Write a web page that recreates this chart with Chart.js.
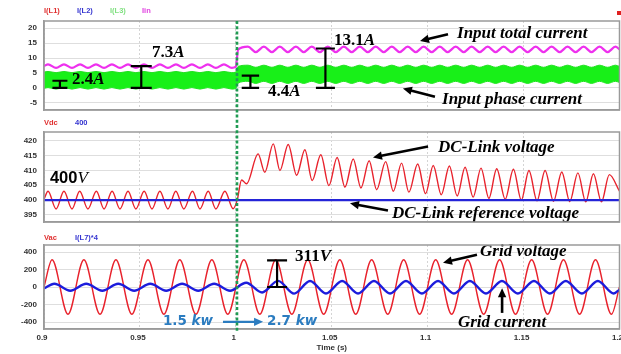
<!DOCTYPE html>
<html><head><meta charset="utf-8">
<script src="https://cdn.jsdelivr.net/npm/chart.js@4"></script>
<style>
html,body{margin:0;padding:0;background:#fff;}
#wrap{position:relative;width:621px;height:354px;overflow:hidden;background:#fff;}
canvas{position:absolute;left:0;top:0;}
</style></head><body>
<div id="wrap">
<canvas id="c1" width="621" height="354"></canvas>
<canvas id="c2" width="621" height="354"></canvas>
<canvas id="c3" width="621" height="354"></canvas>
</div>
<script>
// ---------- axis ticks ----------
const xTickVals = [0.9, 0.95, 1.0, 1.05, 1.1, 1.15, 1.2];
const xTickLabels = ['0.9', '0.95', '1', '1.05', '1.1', '1.15', '1.2'];
const y1TickVals = [-5, 0, 5, 10, 15, 20];
const y1TickLabels = ['-5', '0', '5', '10', '15', '20'];
const y2TickVals = [395, 400, 405, 410, 415, 420];
const y2TickLabels = ['395', '400', '405', '410', '415', '420'];
const y3TickVals = [-400, -200, 0, 200, 400];
const y3TickLabels = ['-400', '-200', '0', '200', '400'];

// ---------- legends ----------
const legend1 = ['I(L1)', 'I(L2)', 'I(L3)', 'Iin'];
const legend2 = ['Vdc', '400'];
const legend3 = ['Vac', 'I(L7)*4'];

// ---------- panel 1: input currents (120 Hz ripple extrema) ----------
const t120 = [
 0.9000, 0.9021, 0.9063, 0.9104, 0.9146, 0.9188, 0.9229, 0.9271, 0.9313, 0.9354, 0.9396, 0.9438, 0.9479,
 0.9521, 0.9563, 0.9604, 0.9646, 0.9688, 0.9729, 0.9771, 0.9813, 0.9854, 0.9896, 0.9938, 0.9979,
 1.0000, 1.0012,
 1.0063, 1.0104, 1.0146, 1.0188, 1.0229, 1.0271, 1.0313, 1.0354, 1.0396, 1.0438,
 1.0479, 1.0521, 1.0563, 1.0604, 1.0646, 1.0688, 1.0729, 1.0771, 1.0813, 1.0854,
 1.0896, 1.0938, 1.0979, 1.1021, 1.1063, 1.1104, 1.1146, 1.1188, 1.1229, 1.1271,
 1.1313, 1.1354, 1.1396, 1.1438, 1.1479, 1.1521, 1.1563, 1.1604, 1.1646, 1.1688,
 1.1729, 1.1771, 1.1813, 1.1854, 1.1896, 1.1938, 1.1979,
 1.2000
];
const iinVals = [
 7.3, 7.9, 6.7, 7.9, 6.7, 7.9, 6.7, 7.9, 6.7, 7.9, 6.7, 7.9, 6.7,
 7.9, 6.7, 7.9, 6.7, 7.9, 6.7, 7.9, 6.7, 7.9, 6.7, 7.9, 6.7,
 7.1, 12.8,
 13.8, 12.0, 13.8, 12.0, 13.8, 12.0, 13.8, 12.0, 13.8, 12.0,
 13.8, 12.0, 13.8, 12.0, 13.8, 12.0, 13.8, 12.0, 13.8, 12.0,
 13.8, 12.0, 13.8, 12.0, 13.8, 12.0, 13.8, 12.0, 13.8, 12.0,
 13.8, 12.0, 13.8, 12.0, 13.8, 12.0, 13.8, 12.0, 13.8, 12.0,
 13.8, 12.0, 13.8, 12.0, 13.8, 12.0, 13.8,
 12.9
];
const phaseTopVals = [
 5.3, 5.5, 5.1, 5.5, 5.1, 5.5, 5.1, 5.5, 5.1, 5.5, 5.1, 5.5, 5.1,
 5.5, 5.1, 5.5, 5.1, 5.5, 5.1, 5.5, 5.1, 5.5, 5.1, 5.5, 5.1,
 5.3, 7.2,
 7.6, 6.9, 7.6, 6.9, 7.6, 6.9, 7.6, 6.9, 7.6, 6.9,
 7.6, 6.9, 7.6, 6.9, 7.6, 6.9, 7.6, 6.9, 7.6, 6.9,
 7.6, 6.9, 7.6, 6.9, 7.6, 6.9, 7.6, 6.9, 7.6, 6.9,
 7.6, 6.9, 7.6, 6.9, 7.6, 6.9, 7.6, 6.9, 7.6, 6.9,
 7.6, 6.9, 7.6, 6.9, 7.6, 6.9, 7.6,
 7.2
];
const phaseBotVals = [
 -0.2, 0.1, -0.4, 0.1, -0.4, 0.1, -0.4, 0.1, -0.4, 0.1, -0.4, 0.1, -0.4,
 0.1, -0.4, 0.1, -0.4, 0.1, -0.4, 0.1, -0.4, 0.1, -0.4, 0.1, -0.4,
 -0.2, 1.6,
 2.2, 1.5, 2.2, 1.5, 2.2, 1.5, 2.2, 1.5, 2.2, 1.5,
 2.2, 1.5, 2.2, 1.5, 2.2, 1.5, 2.2, 1.5, 2.2, 1.5,
 2.2, 1.5, 2.2, 1.5, 2.2, 1.5, 2.2, 1.5, 2.2, 1.5,
 2.2, 1.5, 2.2, 1.5, 2.2, 1.5, 2.2, 1.5, 2.2, 1.5,
 2.2, 1.5, 2.2, 1.5, 2.2, 1.5, 2.2,
 1.8
];

// ---------- panel 2: DC-link voltage extrema ----------
const vdcT = [
 0.9000, 0.9021, 0.9063, 0.9104, 0.9146, 0.9186, 0.9229, 0.9273, 0.9313, 0.9355, 0.9396, 0.9438, 0.9479,
 0.9522, 0.9563, 0.9604, 0.9646, 0.9687, 0.9729, 0.9774, 0.9813, 0.9856, 0.9896, 0.9943, 0.9986,
 1.0007, 1.0030, 1.0056, 1.0116, 1.0151, 1.0195, 1.0230, 1.0273, 1.0317, 1.0360, 1.0398,
 1.0443, 1.0485, 1.0528, 1.0569, 1.0612, 1.0652, 1.0695, 1.0734, 1.0781, 1.0821, 1.0864, 1.0902,
 1.0948, 1.0989, 1.1029, 1.1071, 1.1113, 1.1154, 1.1195, 1.1237, 1.1278, 1.1319, 1.1360, 1.1404,
 1.1447, 1.1488, 1.1528, 1.1570, 1.1612, 1.1656, 1.1699, 1.1741, 1.1783, 1.1824, 1.1864, 1.1906,
 1.1947, 1.2000
];
const vdcVals = [
 400.3, 403, 397, 403, 397, 403, 397, 403, 397, 403, 397, 403, 397,
 403, 397, 403, 397, 403, 397, 403, 397, 403, 397, 403, 397.1,
 400, 406.8, 405.5, 415.6, 409.4, 419, 410, 418.8, 408.4, 417, 406.6,
 415.3, 404.9, 414.4, 404.4, 413.9, 404.1, 413.3, 403.5, 413, 403, 412.5, 402.7,
 412.2, 402.2, 411.7, 401.8, 411.5, 401.4, 411.1, 401, 410.8, 400.6, 410.6, 400.3,
 410.4, 400, 410, 399.8, 410, 399.6, 409.5, 399.5, 409.2, 399.4, 408.9, 399.4,
 408.6, 403
];
const vrefT = [0.9, 1.2];
const vrefVals = [400, 400];

// ---------- panel 3: grid voltage / current extrema ----------
const vacT = [
 0.9000, 0.9042, 0.9125, 0.9208, 0.9292, 0.9375, 0.9458, 0.9542, 0.9625, 0.9708, 0.9792, 0.9875, 0.9958,
 1.0042, 1.0125, 1.0208, 1.0292, 1.0375, 1.0458, 1.0542, 1.0625, 1.0708, 1.0792, 1.0875, 1.0958,
 1.1042, 1.1125, 1.1208, 1.1292, 1.1375, 1.1458, 1.1542, 1.1625, 1.1708, 1.1792, 1.1875, 1.1958,
 1.2000
];
const vacVals = [
 0, 311, -311, 311, -311, 311, -311, 311, -311, 311, -311, 311, -311,
 311, -311, 311, -311, 311, -311, 311, -311, 311, -311, 311, -311,
 311, -311, 311, -311, 311, -311, 311, -311, 311, -311, 311, -311,
 0
];
const iacT = [
 0.9000, 0.9054, 0.9137, 0.9220, 0.9304, 0.9387, 0.9470, 0.9554, 0.9637, 0.9720, 0.9804, 0.9887, 0.9970,
 1.0054, 1.0137, 1.0220, 1.0304, 1.0387, 1.0470, 1.0554, 1.0637, 1.0720, 1.0804, 1.0887, 1.0970,
 1.1054, 1.1137, 1.1220, 1.1304, 1.1387, 1.1470, 1.1554, 1.1637, 1.1720, 1.1804, 1.1887, 1.1970,
 1.2000
];
const iacVals = [
 -15, 38, -42, 38, -42, 38, -42, 38, -42, 38, -42, 38, -42,
 48, -62, 70, -76, 68, -74, 68, -74, 68, -74, 68, -74,
 68, -74, 68, -74, 68, -74, 68, -74, 68, -74, 68, -74,
 -30
];

// ---------- helpers ----------
const pts = (ts, vs) => ts.map((t, i) => ({x: t, y: vs[i]}));
const SERIF = '"Liberation Serif", "Times New Roman", serif';
const NUM = 'bold 17px ' + SERIF;
const UNIT = 'bold italic 17px ' + SERIF;
const LBL = 'bold italic 17px ' + SERIF;
const charts = [];

function drawParts(ctx, x, y, parts, color) {
  ctx.save();
  ctx.fillStyle = color || '#000';
  ctx.textBaseline = 'middle';
  ctx.textAlign = 'left';
  for (const [s, f] of parts) {
    ctx.font = f;
    ctx.fillText(s, x, y);
    x += ctx.measureText(s).width;
  }
  ctx.restore();
}
function drawArrow(ctx, x0, y0, x1, y1, color, w) {
  const a = Math.atan2(y1 - y0, x1 - x0), L = 9, H = 4.2;
  ctx.save();
  ctx.strokeStyle = color; ctx.fillStyle = color; ctx.lineWidth = w;
  ctx.beginPath(); ctx.moveTo(x0, y0);
  ctx.lineTo(x1 - Math.cos(a) * L * 0.8, y1 - Math.sin(a) * L * 0.8); ctx.stroke();
  ctx.beginPath(); ctx.moveTo(x1, y1);
  ctx.lineTo(x1 - Math.cos(a) * L - Math.sin(a) * H, y1 - Math.sin(a) * L + Math.cos(a) * H);
  ctx.lineTo(x1 - Math.cos(a) * L + Math.sin(a) * H, y1 - Math.sin(a) * L - Math.cos(a) * H);
  ctx.closePath(); ctx.fill();
  ctx.restore();
}

const annPlugin = {
  id: 'ann',
  afterDatasetsDraw(chart, args, opts) {
    const ctx = chart.ctx, xs = chart.scales.x, ys = chart.scales.y;
    const X = t => xs.getPixelForValue(t), Y = v => ys.getPixelForValue(v);
    for (const a of (opts.items || [])) {
      if (a.type === 'ibar') {
        const x = X(a.t), y0 = Y(a.v0), y1 = Y(a.v1);
        ctx.save(); ctx.strokeStyle = '#000'; ctx.lineWidth = 2.2;
        ctx.beginPath();
        ctx.moveTo(x, y0); ctx.lineTo(x, y1);
        ctx.moveTo(x - a.w, y0); ctx.lineTo(x + a.w, y0);
        ctx.moveTo(x - a.w, y1); ctx.lineTo(x + a.w, y1);
        ctx.stroke(); ctx.restore();
      } else if (a.type === 'text') {
        drawParts(ctx, X(a.t), Y(a.v), a.parts, a.color);
      } else if (a.type === 'arrow') {
        drawArrow(ctx, X(a.t0), Y(a.v0), X(a.t1), Y(a.v1), a.color || '#000', a.w || 2.6);
      }
    }
  },
  afterDraw(chart, args, opts) {
    const ctx = chart.ctx, ca = chart.chartArea;
    ctx.save(); ctx.strokeStyle = '#9a9a9a'; ctx.lineWidth = 1.5;
    ctx.strokeRect(ca.left, ca.top, ca.right - ca.left, ca.bottom - ca.top);
    ctx.restore();
    const lg = opts.legend || [];
    ctx.save(); ctx.font = 'bold 7.5px Arial, "Liberation Sans", sans-serif';
    ctx.textBaseline = 'middle'; ctx.textAlign = 'left';
    lg.forEach(l => { ctx.fillStyle = l.c; ctx.fillText(l.s, ca.left + l.dx, ca.top - opts.legendDy); });
    ctx.restore();
    if (opts.marker) {
      ctx.save(); ctx.fillStyle = '#e02020'; ctx.fillRect(617, 11, 4, 4); ctx.restore();
    }
    if (opts.divider) {
      const t = charts[0].chartArea.top;
      const x = chart.scales.x.getPixelForValue(opts.divider);
      ctx.save(); ctx.strokeStyle = '#1f9a52'; ctx.lineWidth = 2.6; ctx.setLineDash([3, 2.2]);
      ctx.beginPath(); ctx.moveTo(x, t); ctx.lineTo(x, ca.bottom + 2); ctx.stroke(); ctx.restore();
    }
  }
};

function makeChart(id, datasets, o) {
  const tickFont = {family: 'Arial, "Liberation Sans", sans-serif', size: 8, weight: 'bold'};
  const c = new Chart(document.getElementById(id), {
    type: 'line',
    data: {datasets},
    options: {
      responsive: false, animation: false, devicePixelRatio: 1,
      layout: {padding: {top: o.top, bottom: o.bottom, left: 0, right: 1.5}},
      elements: {point: {radius: 0}, line: {cubicInterpolationMode: 'monotone', borderJoinStyle: 'round'}},
      plugins: {legend: {display: false}, tooltip: {enabled: false}, ann: o.ann},
      scales: {
        x: {
          type: 'linear', min: 0.9, max: 1.2,
          afterBuildTicks: s => { s.ticks = xTickVals.map(v => ({value: v})); },
          afterFit: s => { s.height = o.xh; s.paddingLeft = 0; s.paddingRight = 0; },
          ticks: {display: o.showX, autoSkip: false, maxRotation: 0, padding: 4, labelOffset: -2, color: '#333', font: tickFont,
                  callback: (v, i) => xTickLabels[i]},
          grid: {color: '#d4d4d4', drawTicks: false, lineWidth: 1},
          border: {color: '#9a9a9a', width: 1.5, dash: [2, 2]},
          title: {display: o.showX, text: 'Time (s)', color: '#333', font: {family: 'Arial, "Liberation Sans", sans-serif', size: 8, weight: 'bold'}, padding: {top: 0, bottom: 1}}
        },
        y: {
          min: o.ymin, max: o.ymax,
          afterBuildTicks: s => { s.ticks = o.yVals.map(v => ({value: v})); },
          afterFit: s => { s.width = 44; },
          ticks: {padding: 7, color: '#333', font: tickFont, callback: (v, i) => o.yLabels[i]},
          grid: {color: '#dedede', drawTicks: false, lineWidth: 1},
          border: {color: '#9a9a9a', width: 1.5}
        }
      }
    },
    plugins: [annPlugin]
  });
  charts.push(c);
  return c;
}

// ---------- panel 1 ----------
makeChart('c1', [
  {data: pts(t120, iinVals), borderColor: '#ee30ee', borderWidth: 2.2, fill: false},
  {data: pts(t120, phaseTopVals), borderColor: '#20e020', borderWidth: 1, fill: '+1', backgroundColor: '#18f018'},
  {data: pts(t120, phaseBotVals), borderColor: '#20e020', borderWidth: 1, fill: false}
], {
  top: 21, bottom: 244, xh: 0, showX: false, ymin: -7.4, ymax: 22.4, yVals: y1TickVals, yLabels: y1TickLabels,
  ann: {
    legendDy: 10, marker: true,
    legend: [{s: legend1[0], c: '#e03030', dx: 0}, {s: legend1[1], c: '#3434d0', dx: 33}, {s: legend1[2], c: '#80e080', dx: 66}, {s: legend1[3], c: '#e040e0', dx: 98}],
    items: [
      {type: 'ibar', t: 0.9083, v0: 0, v1: 2.4, w: 7.5},
      {type: 'ibar', t: 0.9507, v0: 0, v1: 7.3, w: 10.5},
      {type: 'ibar', t: 1.0076, v0: 0, v1: 4.1, w: 8.7},
      {type: 'ibar', t: 1.0467, v0: 0, v1: 13.2, w: 9.5},
      {type: 'text', t: 0.9146, v: 2.7, parts: [['2.4', NUM], ['A', UNIT]]},
      {type: 'text', t: 0.9563, v: 11.7, parts: [['7.3', NUM], ['A', UNIT]]},
      {type: 'text', t: 1.0168, v: -1.3, parts: [['4.4', NUM], ['A', UNIT]]},
      {type: 'text', t: 1.0512, v: 16.0, parts: [['13.1', NUM], ['A', UNIT]]},
      {type: 'text', t: 1.1153, v: 18.2, parts: [['Input total current', LBL]]},
      {type: 'text', t: 1.1075, v: -4.0, parts: [['Input phase current', LBL]]},
      {type: 'arrow', t0: 1.1106, v0: 18.0, t1: 1.0960, v1: 15.7},
      {type: 'arrow', t0: 1.1038, v0: -3.0, t1: 1.0871, v1: -0.2}
    ]
  }
});

// ---------- panel 2 ----------
makeChart('c2', [
  {data: pts(vrefT, vrefVals), borderColor: '#2424d8', borderWidth: 2.2, fill: false, cubicInterpolationMode: 'default', tension: 0},
  {data: pts(vdcT, vdcVals), borderColor: '#e8222c', borderWidth: 1.4, fill: false}
], {
  top: 132, bottom: 132, xh: 0, showX: false, ymin: 392.6, ymax: 423, yVals: y2TickVals, yLabels: y2TickLabels,
  ann: {
    legendDy: 9,
    legend: [{s: legend2[0], c: '#e03030', dx: 0}, {s: legend2[1], c: '#3434d0', dx: 31}],
    items: [
      {type: 'text', t: 0.9031, v: 407.3, parts: [['400', 'bold 16.5px Arial, "Liberation Sans", sans-serif'], ['V', 'italic 17px ' + SERIF]]},
      {type: 'text', t: 1.1054, v: 417.8, parts: [['DC-Link voltage', LBL]]},
      {type: 'text', t: 1.0814, v: 395.5, parts: [['DC-Link reference voltage', LBL]]},
      {type: 'arrow', t0: 1.1002, v0: 418.1, t1: 1.0715, v1: 414.4},
      {type: 'arrow', t0: 1.0793, v0: 396.5, t1: 1.0595, v1: 398.9}
    ]
  }
});

// ---------- panel 3 ----------
const BLUEF = 'bold 13.5px "DejaVu Sans", Verdana, sans-serif';
const BLUEI = 'bold italic 13.5px "DejaVu Sans", Verdana, sans-serif';
makeChart('c3', [
  {data: pts(iacT, iacVals), borderColor: '#1c1cdc', borderWidth: 2.4, fill: false},
  {data: pts(vacT, vacVals), borderColor: '#e8222c', borderWidth: 1.4, fill: false}
], {
  top: 245, bottom: 0, xh: 25, showX: true, ymin: -480, ymax: 480, yVals: y3TickVals, yLabels: y3TickLabels,
  ann: {
    legendDy: 7, divider: 1.0006,
    legend: [{s: legend3[0], c: '#e03030', dx: 0}, {s: legend3[1], c: '#3434d0', dx: 31}],
    items: [
      {type: 'ibar', t: 1.0215, v0: 0, v1: 305, w: 10},
      {type: 'text', t: 1.0309, v: 346, parts: [['311', NUM], ['V', UNIT]]},
      {type: 'text', t: 0.9620, v: -398, color: '#2b7cc0', parts: [['1.5 ', BLUEF], ['kw', BLUEI]]},
      {type: 'arrow', t0: 0.9933, v0: -398, t1: 1.0142, v1: -398, color: '#2b7cc0', w: 2.2},
      {type: 'text', t: 1.0163, v: -398, color: '#2b7cc0', parts: [['2.7 ', BLUEF], ['kw', BLUEI]]},
      {type: 'text', t: 1.1273, v: 402, parts: [['Grid voltage', LBL]]},
      {type: 'text', t: 1.1158, v: -409, parts: [['Grid current', LBL]]},
      {type: 'arrow', t0: 1.1257, v0: 368, t1: 1.1080, v1: 278},
      {type: 'arrow', t0: 1.1388, v0: -296, t1: 1.1388, v1: -15}
    ]
  }
});
</script>
</body></html>
